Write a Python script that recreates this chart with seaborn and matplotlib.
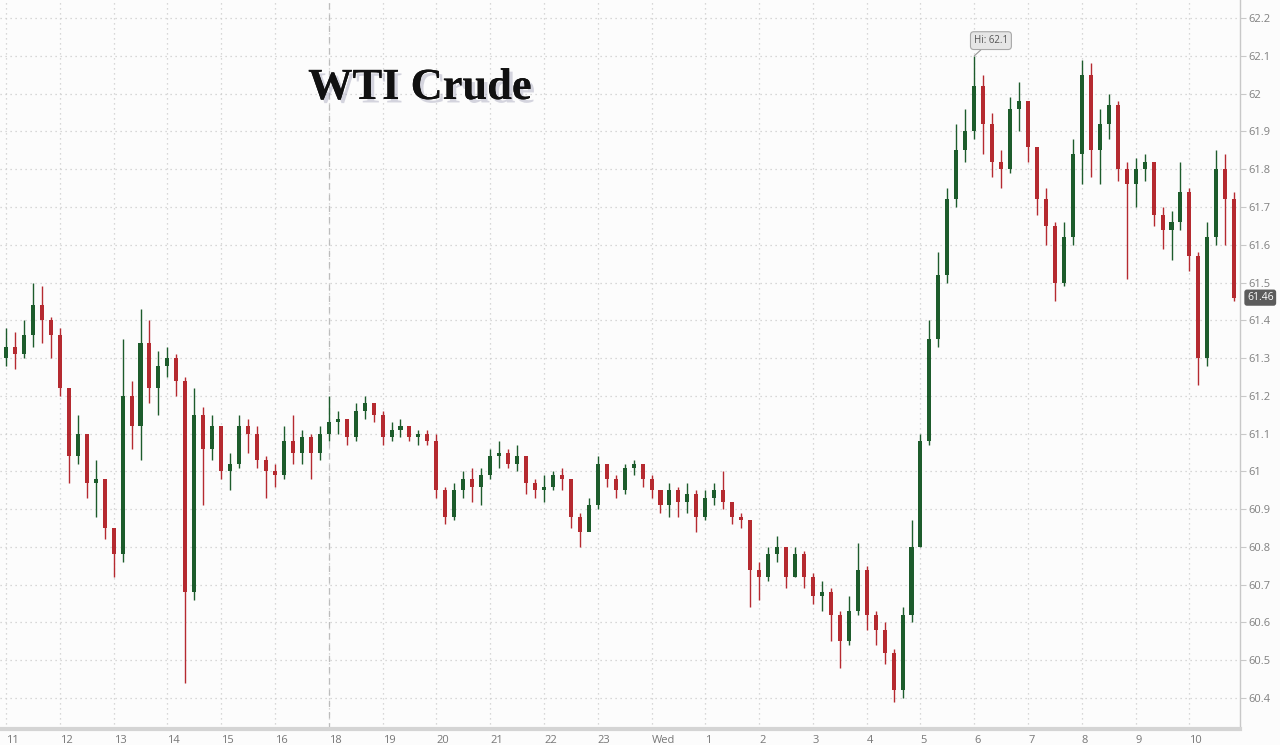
import numpy as np
import pandas as pd
import seaborn as sns
import matplotlib.pyplot as plt
import matplotlib.patheffects as pe

# WTI crude, 10-minute candles from 11:00 (the 17:00 break is skipped)
first_open = 61.30
closes = [61.33, 61.31, 61.36, 61.44, 61.40, 61.36,
          61.22, 61.04, 61.10, 60.97, 60.98, 60.85,
          60.78, 61.20, 61.12, 61.34, 61.22, 61.28,
          61.30, 61.24, 60.68, 61.15, 61.06, 61.12,
          61.00, 61.02, 61.12, 61.10, 61.03, 61.00,
          60.99, 61.08, 61.05, 61.09, 61.05, 61.10,
          61.13, 61.14, 61.09, 61.16, 61.18, 61.15,
          61.09, 61.11, 61.12, 61.09, 61.10, 61.08,
          60.95, 60.88, 60.95, 60.98, 60.96, 60.99,
          61.04, 61.05, 61.02, 61.04, 60.97, 60.95,
          60.96, 60.99, 60.98, 60.88, 60.84, 60.91,
          61.02, 60.98, 60.95, 61.01, 61.02, 60.98,
          60.95, 60.91, 60.95, 60.92, 60.94, 60.88,
          60.93, 60.95, 60.92, 60.88, 60.87, 60.74,
          60.72, 60.78, 60.80, 60.72, 60.78, 60.72,
          60.67, 60.68, 60.62, 60.55, 60.63, 60.74,
          60.62, 60.58, 60.52, 60.42, 60.62, 60.80,
          61.08, 61.35, 61.52, 61.72, 61.85, 61.90,
          62.02, 61.92, 61.82, 61.80, 61.96, 61.98,
          61.86, 61.72, 61.65, 61.50, 61.62, 61.84,
          62.05, 61.85, 61.92, 61.97, 61.80, 61.76,
          61.80, 61.82, 61.68, 61.64, 61.66, 61.74,
          61.57, 61.30, 61.62, 61.80, 61.72, 61.46]
highs = [61.38, 61.37, 61.40, 61.50, 61.49, 61.41,
         61.38, 61.22, 61.15, 61.10, 61.03, 60.98,
         60.85, 61.35, 61.24, 61.43, 61.40, 61.32,
         61.33, 61.31, 61.25, 61.22, 61.17, 61.15,
         61.12, 61.05, 61.15, 61.14, 61.12, 61.04,
         61.02, 61.12, 61.15, 61.11, 61.10, 61.12,
         61.20, 61.16, 61.14, 61.18, 61.20, 61.18,
         61.16, 61.13, 61.14, 61.12, 61.11, 61.11,
         61.10, 60.96, 60.97, 61.00, 61.01, 61.01,
         61.06, 61.08, 61.06, 61.07, 61.04, 60.98,
         60.99, 61.00, 61.01, 60.98, 60.89, 60.93,
         61.04, 61.02, 60.99, 61.02, 61.03, 61.02,
         60.99, 60.95, 60.97, 60.96, 60.97, 60.95,
         60.95, 60.97, 61.00, 60.92, 60.89, 60.87,
         60.76, 60.80, 60.83, 60.80, 60.80, 60.79,
         60.73, 60.71, 60.69, 60.63, 60.67, 60.81,
         60.75, 60.63, 60.60, 60.53, 60.64, 60.87,
         61.10, 61.40, 61.58, 61.75, 61.92, 61.96,
         62.10, 62.05, 61.95, 61.85, 61.99, 62.03,
         61.98, 61.86, 61.75, 61.66, 61.66, 61.88,
         62.09, 62.08, 61.96, 62.00, 61.98, 61.82,
         61.83, 61.84, 61.82, 61.70, 61.69, 61.82,
         61.75, 61.58, 61.66, 61.85, 61.84, 61.74]
lows = [61.28, 61.27, 61.30, 61.33, 61.34, 61.30,
        61.20, 60.97, 61.02, 60.93, 60.88, 60.82,
        60.72, 60.76, 61.06, 61.03, 61.18, 61.15,
        61.25, 61.20, 60.44, 60.66, 60.91, 61.03,
        60.98, 60.95, 61.01, 61.05, 61.01, 60.93,
        60.96, 60.98, 61.02, 61.02, 60.98, 61.03,
        61.08, 61.10, 61.07, 61.08, 61.14, 61.13,
        61.07, 61.08, 61.09, 61.08, 61.07, 61.07,
        60.93, 60.86, 60.87, 60.93, 60.92, 60.91,
        60.98, 61.01, 61.01, 61.00, 60.94, 60.93,
        60.92, 60.95, 60.95, 60.85, 60.80, 60.85,
        60.90, 60.96, 60.93, 60.94, 60.99, 60.96,
        60.93, 60.89, 60.88, 60.88, 60.89, 60.84,
        60.87, 60.91, 60.90, 60.86, 60.85, 60.64,
        60.66, 60.71, 60.76, 60.69, 60.72, 60.69,
        60.65, 60.63, 60.55, 60.48, 60.54, 60.62,
        60.58, 60.54, 60.49, 60.39, 60.40, 60.60,
        60.80, 61.07, 61.33, 61.50, 61.70, 61.82,
        61.88, 61.84, 61.78, 61.75, 61.79, 61.90,
        61.82, 61.68, 61.60, 61.45, 61.49, 61.60,
        61.76, 61.78, 61.76, 61.88, 61.77, 61.51,
        61.70, 61.77, 61.65, 61.59, 61.56, 61.64,
        61.53, 61.23, 61.28, 61.60, 61.60, 61.45]

hour_labels = ['11', '12', '13', '14', '15', '16', '18', '19', '20', '21', '22', '23',
               'Wed', '1', '2', '3', '4', '5', '6', '7', '8', '9', '10']
y_ticks = [60.4, 60.5, 60.6, 60.7, 60.8, 60.9, 61.0, 61.1, 61.2, 61.3,
           61.4, 61.5, 61.6, 61.7, 61.8, 61.9, 62.0, 62.1, 62.2]

GREEN = '#1d5c2c'
RED = '#b52a30'

sns.set_theme(style='white')
plt.rcParams['font.family'] = ['Open Sans', 'DejaVu Sans']

df = pd.DataFrame({'close': closes, 'high': highs, 'low': lows})
df['t'] = np.arange(len(df)) / 6.0
df['open'] = df['close'].shift(1).fillna(first_open)
df['color'] = np.where(df['close'] >= df['open'], GREEN, RED)
df['bottom'] = df[['open', 'close']].min(axis=1)
df['body'] = (df['close'] - df['open']).abs().clip(lower=0.004)

fig = plt.figure(figsize=(12.8, 7.45), dpi=100)
fig.patch.set_facecolor('#fcfcfc')
ax = fig.add_axes([0, 16 / 745, 1240 / 1280, 729 / 745])
ax.set_facecolor('#fcfcfc')

# grid first so the candles sit on top
ax.set_xticks(range(len(hour_labels)))
ax.set_yticks(y_ticks)
ax.grid(True, linestyle=(0, (1, 3)), color='#cccccc', linewidth=0.9)
ax.set_axisbelow(True)
ax.axvline(6, color='#bdbdbd', linestyle=(0, (5, 4)), linewidth=0.9, zorder=1)

# candles
ax.vlines(df['t'], df['low'], df['high'], colors=df['color'], linewidth=1.0, zorder=2)
ax.bar(df['t'], df['body'], bottom=df['bottom'], width=0.075,
       color=df['color'], linewidth=0, zorder=3)

ax.set_xlim(-0.112, 22.94)
ax.set_ylim(60.318, 62.248)

ax.set_xticklabels(hour_labels, ha='left')
ax.tick_params(axis='x', length=0, pad=4, labelsize=8, labelcolor='#777777')
ax.yaxis.tick_right()
ax.set_yticklabels([f'{v:g}' for v in y_ticks])
ax.tick_params(axis='y', length=4, width=0.8, color='#c8c8c8', pad=2,
               labelsize=8, labelcolor='#808080')

for side in ['top', 'left']:
    ax.spines[side].set_visible(False)
ax.spines['right'].set_color('#c8c8c8')
ax.spines['right'].set_linewidth(1)
ax.spines['bottom'].set_color('#d4d4d4')
ax.spines['bottom'].set_linewidth(3)

# session high marker
i_hi = int(np.argmax(df['high'].values))
ax.annotate(f"Hi: {df['high'].max():g}", xy=(df['t'][i_hi], df['high'][i_hi]),
            xytext=(12, 11), textcoords='offset points', ha='center', va='center',
            fontsize=7, color='#555555',
            bbox=dict(boxstyle='round,pad=0.35', fc='#e6e6e6', ec='#a8a8a8', lw=0.8),
            arrowprops=dict(arrowstyle='-', color='#999999', lw=0.8, shrinkA=0, shrinkB=0))

# last price tag
ax.annotate(f"{closes[-1]:.2f}", xy=(1.0, closes[-1]), xycoords=('axes fraction', 'data'),
            xytext=(5, 0), textcoords='offset points', ha='left', va='center',
            fontsize=7.5, color='white', annotation_clip=False,
            bbox=dict(boxstyle='round,pad=0.25', fc='#5c5c5c', ec='none'))

fig.text(420 / 1280, 1 - 88 / 745, 'WTI Crude', ha='center', va='center',
         fontsize=32, fontweight='bold', family='Liberation Serif', color='#111111',
         path_effects=[pe.withSimplePatchShadow(offset=(2.5, -2.5), shadow_rgbFace='#7a7a9a',
                                                alpha=0.3), pe.Normal()])

fig.savefig('out.png', dpi=100, facecolor=fig.get_facecolor())
